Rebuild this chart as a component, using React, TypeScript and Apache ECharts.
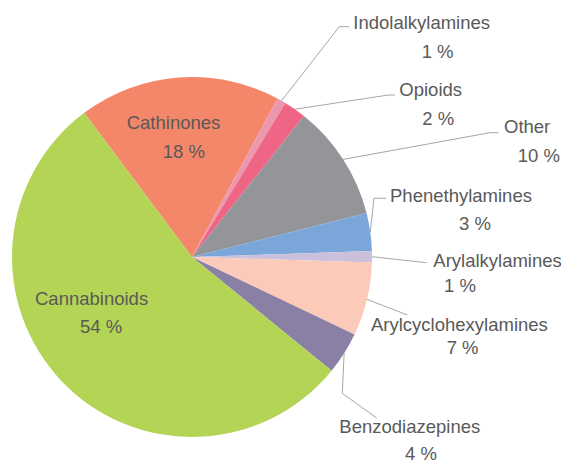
import React, { useEffect, useRef } from "react";
import * as echarts from "echarts";

// ---- data (clockwise from the Cathinones / Cannabinoids boundary) ----
const categories = [
  "Cathinones",
  "Indolalkylamines",
  "Opioids",
  "Other",
  "Phenethylamines",
  "Arylalkylamines",
  "Arylcyclohexylamines",
  "Benzodiazepines",
  "Cannabinoids",
];
const shares = [18.1, 0.8, 2.0, 10.4, 3.4, 1.0, 6.6, 3.8, 53.9];
const sliceColors = [
  "#F4876A",
  "#EC97AE",
  "#EF6585",
  "#939598",
  "#7AA6D9",
  "#CAC0DB",
  "#FBCAB8",
  "#8A80A5",
  "#B4D455",
];
const insideLabelled = ["Cathinones", "Cannabinoids"];

// ---- layout / style (not data) ----
const CX = 192;
const CY = 257;
const R = 180;
const START_ANGLE = 126.8;
const FONT = "'Liberation Sans', Arial, sans-serif";
const FONT_SIZE = 18.5;
const TEXT_COLOR = "#595959";
const LINE_COLOR = "#A6A6A6";
// [name left, percent left, name baseline, percent baseline]
const labelPlacement: number[][] = [
  [126.7, 162.7, 129.3, 158.3],
  [353.3, 421.7, 29.3, 58.3],
  [399.3, 422.3, 95.5, 125],
  [504, 517.7, 133.3, 162.3],
  [390, 459, 201.7, 230],
  [433.3, 444, 266.7, 291.7],
  [371, 446.7, 331, 354.3],
  [339.3, 405, 433, 459.5],
  [35, 80, 305, 333.3],
];
// guide line bend/end points (after the slice anchor)
const guidePoints: (number[][] | null)[] = [
  null,
  [[339.3, 26.7], [349.3, 26.7]],
  [[388.3, 95], [395, 95]],
  [[490, 132.7], [498.3, 132.7]],
  [[374, 198.3], [386, 198.3]],
  [[426.7, 262.7], [426.7, 262.7]],
  [[407.3, 315], [407.3, 315]],
  [[342.3, 393.3], [376.7, 418]],
  null,
];

const CENTRAL_OFFSET = 0.3465 * FONT_SIZE;

export default function App() {
  const ref = useRef<HTMLDivElement>(null);

  useEffect(() => {
    document.body.style.margin = "0";
    if (!ref.current) return;
    const chart = echarts.init(ref.current, undefined, { renderer: "svg" });

    const total = shares.reduce((a, b) => a + b, 0);
    const midAngles: number[] = [];
    let acc = 0;
    shares.forEach((v) => {
      const a0 = START_ANGLE - (acc / total) * 360;
      acc += v;
      const a1 = START_ANGLE - (acc / total) * 360;
      midAngles.push(((a0 + a1) / 2) * (Math.PI / 180));
    });

    const rich: Record<string, any> = {};
    labelPlacement.forEach((pl, i) => {
      const spacing = pl[3] - pl[2];
      const base = {
        fontFamily: FONT,
        fontSize: FONT_SIZE,
        color: TEXT_COLOR,
        lineHeight: spacing,
      };
      rich["n" + i] = { ...base };
      rich["p" + i] = { ...base, padding: [0, 0, 0, pl[1] - pl[0]] };
    });

    const data = categories.map((name, i) => {
      const inside = insideLabelled.includes(name);
      return {
        name,
        value: shares[i],
        itemStyle: { color: sliceColors[i] },
        label: { position: inside ? "inside" : "outside" },
        labelLine: { show: !inside },
      };
    });

    chart.setOption({
      animation: false,
      series: [
        {
          type: "pie",
          center: [CX, CY],
          radius: R,
          startAngle: START_ANGLE,
          clockwise: true,
          avoidLabelOverlap: false,
          minShowLabelAngle: 0,
          emphasis: { disabled: true },
          itemStyle: { borderWidth: 0 },
          label: {
            show: true,
            color: TEXT_COLOR,
            fontFamily: FONT,
            fontSize: FONT_SIZE,
            formatter: (p: any) =>
              "{n" + p.dataIndex + "|" + p.name + "}\n{p" + p.dataIndex + "|" + Math.round(p.percent) + " %}",
            rich,
          },
          labelLine: {
            show: true,
            length: 10,
            length2: 10,
            lineStyle: { color: LINE_COLOR, width: 1 },
          },
          labelLayout: (params: any) => {
            const i = params.dataIndex;
            const pl = labelPlacement[i];
            const spacing = pl[3] - pl[2];
            const res: any = {
              x: pl[0],
              y: pl[2] - CENTRAL_OFFSET - spacing / 2,
              align: "left",
              verticalAlign: "top",
            };
            const g = guidePoints[i];
            if (g) {
              const a = midAngles[i];
              const anchor = [CX + R * Math.cos(a), CY - R * Math.sin(a)];
              res.labelLinePoints = [anchor, g[0], g[1]];
            }
            return res;
          },
          data,
        },
      ],
    });

    return () => {
      chart.dispose();
    };
  }, []);

  return <div ref={ref} style={{ width: 561, height: 464 }} />;
}
